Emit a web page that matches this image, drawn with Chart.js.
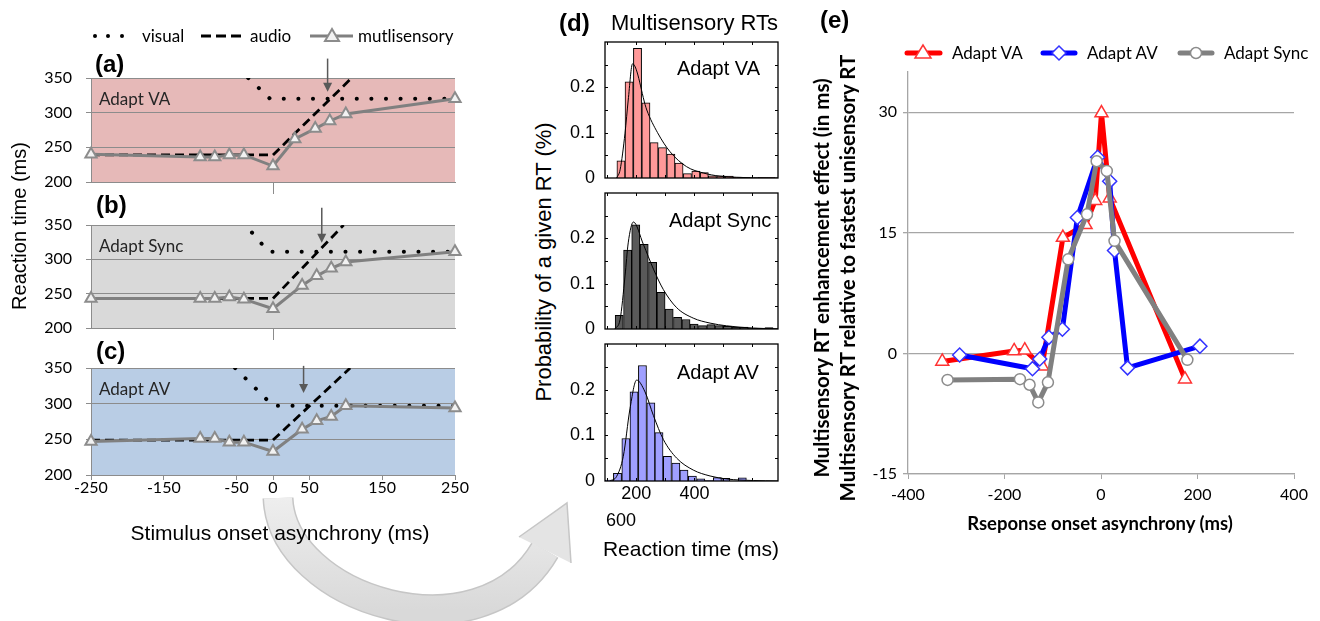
<!DOCTYPE html>
<html>
<head>
<meta charset="utf-8">
<script src="https://cdn.jsdelivr.net/npm/chart.js@4.4.0/dist/chart.umd.min.js"></script>
<style>
  body { margin: 0; background: #fff; }
  #wrap { position: relative; width: 1320px; height: 621px; overflow: hidden; font-family: "Liberation Sans", Arial, sans-serif; color: #000; }
  canvas { position: absolute; z-index: 1; }
  .t { position: absolute; white-space: nowrap; z-index: 2; }
  .rot { transform-origin: 0 0; transform: rotate(-90deg); text-align: center; }
  .cal { font-family: Lato, sans-serif; }
</style>
</head>
<body>
<div id="wrap">
  <!-- curved arrow between the panels -->
  <svg width="1320" height="621" style="position:absolute;left:0;top:0;z-index:0">
    <defs>
      <linearGradient id="arc" x1="0" y1="0" x2="0" y2="1">
        <stop offset="0" stop-color="#eeeeee"/>
        <stop offset="1" stop-color="#d9d9d9"/>
      </linearGradient>
    </defs>
    <path d="M278,498 C282,600 480,662 545,550" fill="none" stroke="#c6c6c6" stroke-width="31"/>
    <polygon points="567,503 519,537 571,563" fill="#e4e4e4"/>
    <polyline points="519,537 567,503 571,563" fill="none" stroke="#c6c6c6" stroke-width="1.5"/>
    <path d="M278,498 C282,600 480,662 545,550" fill="none" stroke="url(#arc)" stroke-width="28"/>
  </svg>

  <!-- legend of panels a-c -->
  <svg width="470" height="50" style="position:absolute;left:0;top:15px;z-index:2">
    <circle cx="95" cy="21" r="2" fill="#000"/>
    <circle cx="108" cy="21" r="2" fill="#000"/>
    <circle cx="122" cy="21" r="2" fill="#000"/>
    <line x1="201" y1="21" x2="245" y2="21" stroke="#000" stroke-width="3" stroke-dasharray="10,5"/>
    <line x1="310" y1="21" x2="353" y2="21" stroke="#808080" stroke-width="3"/>
    <polygon points="332,14 325,26 339,26" fill="#f2f2f2" stroke="#8c8c8c" stroke-width="2"/>
  </svg>
  <div class="t cal" style="left:142px;top:25px;font-size:17px;line-height:22px">visual</div>
  <div class="t cal" style="left:250px;top:25px;font-size:17px;line-height:22px">audio</div>
  <div class="t cal" style="left:358px;top:25px;font-size:17px;line-height:22px">mutlisensory</div>

  <div class="t" style="left:95px;top:50px;font-size:24px;font-weight:bold;line-height:28px">(a)</div>
  <div class="t" style="left:96px;top:191px;font-size:24px;font-weight:bold;line-height:28px">(b)</div>
  <div class="t" style="left:96px;top:337px;font-size:24px;font-weight:bold;line-height:28px">(c)</div>
  <div class="t rot" style="left:7px;top:376px;width:300px;font-size:20px;line-height:24px">Reaction time (ms)</div>
  <div class="t" style="left:80px;top:520px;width:400px;text-align:center;font-size:21px;line-height:26px">Stimulus onset asynchrony (ms)</div>

  <!-- panel d texts -->
  <div class="t" style="left:559px;top:9px;font-size:24px;font-weight:bold;line-height:28px">(d)</div>
  <div class="t" style="left:611px;top:10px;font-size:22px;line-height:26px">Multisensory RTs</div>
  <div class="t" style="left:677px;top:56px;font-size:20px;line-height:24px">Adapt VA</div>
  <div class="t" style="left:669px;top:208px;font-size:20px;line-height:24px">Adapt Sync</div>
  <div class="t" style="left:677px;top:360px;font-size:20px;line-height:24px">Adapt AV</div>
  <div class="t rot" style="left:532px;top:462px;width:400px;font-size:22px;line-height:24px">Probability of a given RT (%)</div>
  <div class="t" style="left:601px;top:509px;width:40px;text-align:center;font-size:18px;line-height:22px">600</div>
  <div class="t" style="left:591px;top:536px;width:200px;text-align:center;font-size:21px;line-height:26px">Reaction time (ms)</div>

  <!-- panel e texts -->
  <div class="t" style="left:820px;top:6px;font-size:24px;font-weight:bold;line-height:28px">(e)</div>
  <svg width="420" height="30" style="position:absolute;left:895px;top:38px;z-index:2">
    <line x1="12" y1="15" x2="45" y2="15" stroke="#ff0000" stroke-width="5" stroke-linecap="round"/>
    <polygon points="28,7 20,20 36,20" fill="#fff" stroke="#ff3333" stroke-width="1.5"/>
    <line x1="148" y1="15" x2="180" y2="15" stroke="#0000ff" stroke-width="5" stroke-linecap="round"/>
    <polygon points="164,8 171,15 164,22 157,15" fill="#fff" stroke="#3333ff" stroke-width="1.5"/>
    <line x1="285" y1="15" x2="317" y2="15" stroke="#808080" stroke-width="5" stroke-linecap="round"/>
    <circle cx="301" cy="15" r="5.5" fill="#fff" stroke="#8c8c8c" stroke-width="1.5"/>
  </svg>
  <div class="t cal" style="left:952px;top:42px;font-size:17px;line-height:22px">Adapt VA</div>
  <div class="t cal" style="left:1087px;top:42px;font-size:17px;line-height:22px">Adapt AV</div>
  <div class="t cal" style="left:1224px;top:42px;font-size:17px;line-height:22px">Adapt Sync</div>
  <div class="t rot cal" style="left:808px;top:528px;width:500px;font-size:20.5px;font-weight:bold;line-height:26px">Multisensory RT enhancement effect (in ms)<br>Multisensory RT relative to fastest unisensory RT</div>
  <div class="t cal" style="left:900px;top:510px;width:400px;text-align:center;font-size:18.5px;font-weight:bold;line-height:26px">Rseponse onset asynchrony (ms)</div>
</div>

<script>
// ---- panels a-c : reaction time vs stimulus onset asynchrony ----
const soaTicks = [-250, -150, -50, 0, 50, 150, 250];
const rtTicks = [200, 250, 300, 350];

const soaVA = [-250, -100, -80, -60, -40, 0, 30, 58, 78, 100, 250];
const multiVA = [240, 236, 236, 239, 239, 223, 262, 277, 288, 298, 320];
const visSoaVA = [-34, -4, 250];
const visualVA = [350, 320, 320];
const audSoaVA = [-250, 0, 108];
const audioVA = [239, 239, 350];

const soaSync = [-250, -100, -80, -60, -40, 0, 40, 60, 80, 100, 250];
const multiSync = [243, 243, 243, 245, 242, 228, 262, 276, 287, 296, 311];
const visSoaSync = [-42, -6, 250];
const visualSync = [355, 311, 311];
const audSoaSync = [-250, 0, 97];
const audioSync = [243, 243, 350];

const soaAV = [-250, -100, -80, -60, -40, 0, 40, 60, 80, 100, 250];
const multiAV = [247, 251, 251, 246, 246, 233, 264, 276, 282, 297, 294];
const visSoaAV = [-52, 0, 250];
const visualAV = [350, 297, 297];
const audSoaAV = [-250, 0, 106];
const audioAV = [249, 249, 350];

// arrows marking where audio and visual curves cross
const arrowSoa = [75, 67, 42];
const arrowTop = [378, 375, 353];
const arrowTip = [330, 324, 315];

// ---- panel d : RT histograms ----
const probTicks = [0, 0.1, 0.2];
const probMarks = [0.05, 0.1, 0.15, 0.2, 0.25];
const rtLabels = [200, 400];
const rtMarks = [100, 200, 300, 400, 500, 600];

const binsVA = [147, 175, 204, 233, 261, 290, 319, 347, 376, 405, 434, 462, 491, 520, 548, 577, 606, 634, 663];
const probVA = [0.038, 0.212, 0.286, 0.166, 0.078, 0.067, 0.053, 0.033, 0.0095, 0.015, 0.012, 0.005, 0.005, 0.004, 0.002, 0.001, 0, 0.001, 0.001];
const fitRtVA = [132, 144, 161, 172, 187, 236, 273, 316, 373, 431, 488, 546, 603, 688];
const fitVA = [0, 0.018, 0.099, 0.172, 0.252, 0.15, 0.1, 0.058, 0.025, 0.011, 0.004, 0.0015, 0.0005, 0];

const binsSync = [141, 170, 198, 227, 256, 285, 313, 342, 371, 399, 428, 457, 485, 514, 543, 571, 600, 629, 657];
const probSync = [0.03, 0.174, 0.23, 0.187, 0.147, 0.081, 0.044, 0.026, 0.021, 0.011, 0.0074, 0.0096, 0.0074, 0.006, 0.0044, 0.0044, 0.002, 0.0015, 0.003];
const fitRtSync = [126, 144, 161, 172, 190, 224, 259, 293, 339, 396, 454, 511, 603, 688];
const fitSync = [0, 0.021, 0.117, 0.19, 0.236, 0.187, 0.132, 0.087, 0.047, 0.024, 0.013, 0.007, 0.002, 0.0005];

const binsAV = [106, 135, 164, 192, 221, 250, 278, 307, 336, 364, 393, 422, 450, 479, 508, 536, 565];
const probAV = [0.002, 0.017, 0.093, 0.195, 0.253, 0.171, 0.106, 0.054, 0.039, 0.024, 0.011, 0.005, 0.001, 0.0074, 0.006, 0, 0.0067];
const fitRtAV = [109, 132, 155, 178, 201, 230, 259, 293, 339, 396, 454, 511, 603, 688];
const fitAV = [0, 0.01, 0.054, 0.158, 0.221, 0.195, 0.143, 0.091, 0.05, 0.024, 0.011, 0.0044, 0.001, 0];

// ---- panel e : enhancement vs response onset asynchrony ----
const rosTicks = [-400, -200, 0, 200, 400];
const effTicks = [-15, 0, 15, 30];
const rosVA = [-329, -180, -158, -122, -79, -32, -12, 1, 18, 174];
const effVA = [-1, 0.3, 0.4, -1.6, 14.4, 16, 19, 29.9, 19.3, -3.2];
const rosAV = [-293, -142, -127, -108, -80, -49, -7, 18, 28, 55, 205];
const effAV = [-0.2, -1.9, -0.7, 2.0, 3.0, 16.9, 24.4, 21.4, 12.8, -1.8, 0.9];
const rosSync = [-318, -168, -148, -130, -110, -68, -29, -9, 12, 28, 179];
const effSync = [-3.3, -3.2, -3.9, -6.1, -3.6, 11.7, 17.3, 23.9, 22.7, 14.0, -0.8];

Chart.defaults.font.family = 'Lato';
Chart.defaults.color = '#000';

const pts = (xs, ys) => xs.map((x, i) => ({ x: x, y: ys[i] }));

// canvas placed on the page, with a fixed plot area (page coordinates)
function makeCanvas(box) {
  const c = document.createElement('canvas');
  c.width = box.w; c.height = box.h;
  c.style.left = box.x + 'px'; c.style.top = box.y + 'px';
  c.style.width = box.w + 'px'; c.style.height = box.h + 'px';
  document.getElementById('wrap').appendChild(c);
  return c;
}
function frame(box, area) {
  return {
    padding: { left: 0, top: area.t - box.y, right: box.x + box.w - area.r, bottom: 0 },
    yw: area.l - box.x,
    xh: box.y + box.h - area.b
  };
}

// coloured background, corner label and arrow for panels a-c
const panelDeco = {
  id: 'panelDeco',
  beforeDraw(chart, args, o) {
    const { ctx, chartArea: a } = chart;
    ctx.save();
    ctx.fillStyle = o.color;
    ctx.fillRect(a.left, a.top, a.right - a.left, a.bottom - a.top);
    ctx.restore();
  },
  afterDraw(chart, args, o) {
    const { ctx, chartArea: a, scales: { x, y } } = chart;
    ctx.save();
    ctx.font = '17px Lato';
    ctx.fillStyle = '#262626';
    ctx.textBaseline = 'middle';
    ctx.fillText(o.label, a.left + 8, a.top + 22);
    const px = x.getPixelForValue(o.arrowX);
    const y0 = y.getPixelForValue(o.arrowFrom), y1 = y.getPixelForValue(o.arrowTo);
    ctx.strokeStyle = '#595959'; ctx.fillStyle = '#595959'; ctx.lineWidth = 1.5;
    ctx.beginPath(); ctx.moveTo(px, y0); ctx.lineTo(px, y1 - 8); ctx.stroke();
    ctx.beginPath(); ctx.moveTo(px - 4.5, y1 - 9); ctx.lineTo(px + 4.5, y1 - 9); ctx.lineTo(px, y1); ctx.closePath(); ctx.fill();
    ctx.restore();
  }
};

function soaChart(i, box, area, soa, multi, vSoa, vis, aSoa, aud, color, label, showX) {
  const f = frame(box, area);
  new Chart(makeCanvas(box), {
    type: 'line',
    data: {
      datasets: [
        { data: pts(soa, multi), borderColor: '#808080', borderWidth: 3, pointStyle: 'triangle', pointRadius: 6.5,
          pointBackgroundColor: '#f2f2f2', pointBorderColor: '#8c8c8c', pointBorderWidth: 2, clip: false, order: 0 },
        { data: pts(aSoa, aud), borderColor: '#000', borderWidth: 2.8, borderDash: [9, 5], pointRadius: 0, clip: 0, order: 1 },
        { data: pts(vSoa, vis), borderColor: '#000', borderWidth: 4, borderDash: [0.1, 14.5], borderCapStyle: 'round', pointRadius: 0, clip: 0, order: 2 }
      ]
    },
    options: {
      responsive: false, animation: false, devicePixelRatio: 1, events: [],
      layout: { padding: f.padding },
      plugins: {
        legend: { display: false }, tooltip: { enabled: false },
        panelDeco: { color: color, label: label, arrowX: arrowSoa[i], arrowFrom: arrowTop[i], arrowTo: arrowTip[i] }
      },
      scales: {
        x: {
          type: 'linear', min: -250, max: 250, offset: false,
          afterBuildTicks: s => { s.ticks = (showX ? soaTicks : [0]).map(v => ({ value: v })); },
          afterFit: s => { s.height = f.xh; },
          grid: { drawOnChartArea: false, color: '#8c8c8c', tickLength: showX ? 5 : 12 },
          border: { color: '#8c8c8c' },
          ticks: { display: showX, font: { size: 16 }, padding: -2, maxRotation: 0 }
        },
        y: {
          min: 200, max: 350,
          afterBuildTicks: s => { s.ticks = rtTicks.map(v => ({ value: v })); },
          afterFit: s => { s.width = f.yw; },
          grid: { color: '#8c8c8c', tickLength: 5 },
          border: { color: '#8c8c8c' },
          ticks: { font: { size: 16 }, padding: 14 }
        }
      }
    },
    plugins: [panelDeco]
  });
}

// canvases overlap a little so that the layout has room for the edge tick labels
soaChart(0, { x: 0, y: 45, w: 470, h: 162 }, { l: 91, t: 78, r: 455, b: 182 },
  soaVA, multiVA, visSoaVA, visualVA, audSoaVA, audioVA, '#e6b9b8', 'Adapt VA', false);
soaChart(1, { x: 0, y: 195, w: 470, h: 158 }, { l: 91, t: 225, r: 455, b: 328 },
  soaSync, multiSync, visSoaSync, visualSync, audSoaSync, audioSync, '#d9d9d9', 'Adapt Sync', false);
soaChart(2, { x: 0, y: 342, w: 470, h: 173 }, { l: 91, t: 368, r: 455, b: 475 },
  soaAV, multiAV, visSoaAV, visualAV, audSoaAV, audioAV, '#b9cde5', 'Adapt AV', true);

// Matlab-like box with inward ticks for panel d
const matBox = {
  id: 'matBox',
  afterDatasetsDraw(chart) {
    const { ctx, chartArea: a, scales: { x, y } } = chart;
    ctx.save();
    ctx.strokeStyle = '#000'; ctx.lineWidth = 1.3;
    ctx.strokeRect(a.left, a.top, a.right - a.left, a.bottom - a.top);
    ctx.lineWidth = 1;
    ctx.beginPath();
    probMarks.forEach(v => {
      const py = Math.round(y.getPixelForValue(v)) + 0.5;
      ctx.moveTo(a.left, py); ctx.lineTo(a.left + 3, py);
      ctx.moveTo(a.right, py); ctx.lineTo(a.right - 3, py);
    });
    rtMarks.forEach(v => {
      const px = Math.round(x.getPixelForValue(v)) + 0.5;
      ctx.moveTo(px, a.bottom); ctx.lineTo(px, a.bottom - 3);
      ctx.moveTo(px, a.top); ctx.lineTo(px, a.top + 3);
    });
    ctx.stroke();
    ctx.restore();
  }
};

function histChart(box, area, bins, probs, fitX, fitY, color, showX) {
  const f = frame(box, area);
  new Chart(makeCanvas(box), {
    type: 'bar',
    data: {
      datasets: [
        { type: 'line', data: pts(fitX, fitY), borderColor: '#000', borderWidth: 1, pointRadius: 0,
          cubicInterpolationMode: 'monotone', order: 0 },
        { data: pts(bins, probs), backgroundColor: color, borderColor: '#000', borderWidth: 1,
          barPercentage: 1, categoryPercentage: 1, order: 1 }
      ]
    },
    options: {
      responsive: false, animation: false, devicePixelRatio: 1, events: [],
      layout: { padding: f.padding },
      plugins: { legend: { display: false }, tooltip: { enabled: false } },
      scales: {
        x: {
          type: 'linear', min: 92, max: 688, offset: false,
          afterBuildTicks: s => { s.ticks = rtLabels.map(v => ({ value: v })); },
          afterFit: s => { s.height = f.xh; },
          grid: { display: false, drawTicks: false }, border: { display: false },
          ticks: { display: showX, font: { family: 'Liberation Sans', size: 18 }, padding: 2, maxRotation: 0 }
        },
        y: {
          min: 0, max: 0.3,
          afterBuildTicks: s => { s.ticks = probTicks.map(v => ({ value: v })); },
          afterFit: s => { s.width = f.yw; },
          grid: { display: false, drawTicks: false }, border: { display: false },
          ticks: { font: { family: 'Liberation Sans', size: 18 }, padding: 10, callback: v => String(v) }
        }
      }
    },
    plugins: [matBox]
  });
}

histChart({ x: 560, y: 20, w: 230, h: 180 }, { l: 605, t: 42, r: 778, b: 178 }, binsVA, probVA, fitRtVA, fitVA, '#ff9999', false);
histChart({ x: 560, y: 171, w: 230, h: 180 }, { l: 605, t: 193, r: 778, b: 329 }, binsSync, probSync, fitRtSync, fitSync, '#595959', false);
histChart({ x: 560, y: 322, w: 230, h: 186 }, { l: 605, t: 344, r: 778, b: 481 }, binsAV, probAV, fitRtAV, fitAV, '#9f9fff', true);

// panel e
(function () {
  const box = { x: 860, y: 48, w: 460, h: 492 };
  const f = frame(box, { l: 908, t: 72, r: 1294, b: 474 });
  const common = { borderWidth: 5, borderJoinStyle: 'round', borderCapStyle: 'round', pointBackgroundColor: '#fff', pointBorderWidth: 1.5 };
  new Chart(makeCanvas(box), {
    type: 'line',
    data: {
      datasets: [
        Object.assign({ label: 'Adapt VA', data: pts(rosVA, effVA), borderColor: '#ff0000', pointBorderColor: '#ff3333',
          pointStyle: 'triangle', pointRadius: 7.5, order: 3 }, common),
        Object.assign({ label: 'Adapt AV', data: pts(rosAV, effAV), borderColor: '#0000ff', pointBorderColor: '#3333ff',
          pointStyle: 'rectRot', pointRadius: 7, order: 2 }, common),
        Object.assign({ label: 'Adapt Sync', data: pts(rosSync, effSync), borderColor: '#808080', pointBorderColor: '#8c8c8c',
          pointStyle: 'circle', pointRadius: 5.5, order: 1 }, common)
      ]
    },
    options: {
      responsive: false, animation: false, devicePixelRatio: 1, events: [],
      layout: { padding: f.padding },
      plugins: { legend: { display: false }, tooltip: { enabled: false } },
      scales: {
        x: {
          type: 'linear', min: -400, max: 400,
          afterBuildTicks: s => { s.ticks = rosTicks.map(v => ({ value: v })); },
          afterFit: s => { s.height = f.xh; },
          grid: { drawOnChartArea: false, color: '#a6a6a6', tickLength: 5 },
          border: { color: '#a6a6a6', width: 1.3 },
          ticks: { font: { size: 16 }, padding: 6, maxRotation: 0 }
        },
        y: {
          min: -15, max: 35,
          afterBuildTicks: s => { s.ticks = effTicks.map(v => ({ value: v })); },
          afterFit: s => { s.width = f.yw; },
          grid: { color: '#a6a6a6', tickLength: 5, lineWidth: 1.3 },
          border: { color: '#a6a6a6', width: 1.3 },
          ticks: { font: { size: 16 }, padding: 6 }
        }
      }
    }
  });
})();
</script>
</body>
</html>
